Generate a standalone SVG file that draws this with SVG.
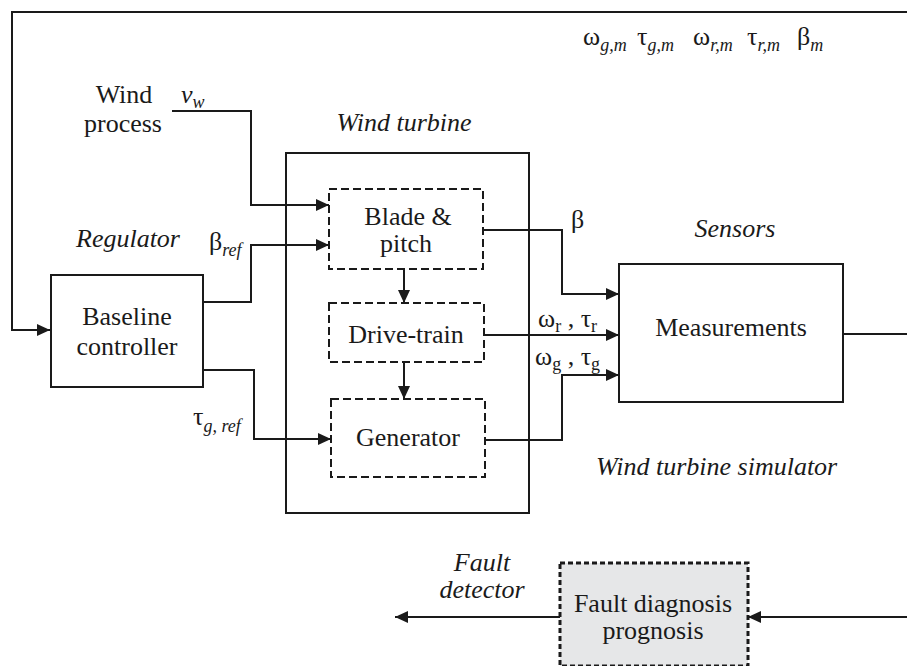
<svg xmlns="http://www.w3.org/2000/svg" width="907" height="666" viewBox="0 0 907 666" font-family="Liberation Serif, Tinos, Noto Serif, DejaVu Serif, Times New Roman, serif">
<style>
text{fill:#1a1a1a;font-size:26px}
.it{font-style:italic}
.mid{text-anchor:middle}
.sub{font-size:18px}
.box{fill:#fff;stroke:#1a1a1a;stroke-width:2}
.dash{fill:#fff;stroke:#1a1a1a;stroke-width:2;stroke-dasharray:8 4}
.fault{fill:#e6e7e8;stroke:#1a1a1a;stroke-width:3;stroke-dasharray:5 3}
.ln{fill:none;stroke:#1a1a1a;stroke-width:2}
</style>
<defs>
<marker id="arr" markerWidth="14" markerHeight="12" refX="13" refY="6" orient="auto" markerUnits="userSpaceOnUse">
<path d="M0,0 L13,6 L0,12 z" fill="#1a1a1a"/>
</marker>
</defs>
<rect width="907" height="666" fill="#fff"/>

<g id="turbine">
<rect class="box" x="286" y="153" width="243" height="360"/>
<text class="it mid" x="404" y="131">Wind turbine</text>
</g>

<g id="connectors">
<path class="ln" d="M907,12 H12 V330 H50" marker-end="url(#arr)"/>
<path class="ln" d="M172,111 H251 V205 H329" marker-end="url(#arr)"/>
<path class="ln" d="M203,302 H251 V245 H329" marker-end="url(#arr)"/>
<path class="ln" d="M203,370 H254 V439 H331" marker-end="url(#arr)"/>
<path class="ln" d="M404,269 V303" marker-end="url(#arr)"/>
<path class="ln" d="M404,362 V399" marker-end="url(#arr)"/>
<path class="ln" d="M483,230 H562 V294 H619" marker-end="url(#arr)"/>
<path class="ln" d="M484,335 H619" marker-end="url(#arr)"/>
<path class="ln" d="M485,440 H562 V375 H619" marker-end="url(#arr)"/>
<path class="ln" d="M843,334 H907"/>
<path class="ln" d="M907,617 H748" marker-end="url(#arr)"/>
<path class="ln" d="M560,617 H395" marker-end="url(#arr)"/>
</g>

<g id="wind-process">
<text class="mid" x="124" y="103">Wind</text>
<text class="mid" x="123" y="132">process</text>
</g>

<g id="baseline-controller">
<rect class="box" x="51" y="275" width="152" height="112"/>
<text class="mid" x="127" y="325">Baseline</text>
<text class="mid" x="127" y="355">controller</text>
</g>

<g id="blade-pitch">
<rect class="dash" x="329" y="189" width="154" height="80"/>
<text class="mid" x="408" y="225">Blade &amp;</text>
<text class="mid" x="406" y="252">pitch</text>
</g>

<g id="drive-train">
<rect class="dash" x="329" y="303" width="155" height="59"/>
<text class="mid" x="406" y="343">Drive-train</text>
</g>

<g id="generator">
<rect class="dash" x="331" y="399" width="154" height="78"/>
<text class="mid" x="408" y="446">Generator</text>
</g>

<g id="measurements">
<rect class="box" x="619" y="264" width="224" height="138"/>
<text class="mid" x="731" y="336">Measurements</text>
</g>

<g id="fault-diagnosis">
<rect class="fault" x="560" y="563" width="188" height="103"/>
<text class="mid" x="653" y="612">Fault diagnosis</text>
<text class="mid" x="653" y="639">prognosis</text>
</g>

<g id="labels">
<text x="583" y="45">ω<tspan class="sub it" dy="6">g,m</tspan></text>
<text x="637" y="45">τ<tspan class="sub it" dy="6">g,m</tspan></text>
<text x="693" y="45">ω<tspan class="sub it" dy="6">r,m</tspan></text>
<text x="747" y="45">τ<tspan class="sub it" dy="6">r,m</tspan></text>
<text x="797" y="45">β<tspan class="sub it" dy="6">m</tspan></text>
<text class="it" x="181" y="103">v<tspan class="sub" dy="5">w</tspan></text>
<text class="it" x="76" y="247">Regulator</text>
<text x="209" y="250">β<tspan class="sub it" dy="6">ref</tspan></text>
<text x="193" y="425">τ<tspan class="sub it" dy="7">g, ref</tspan></text>
<text x="571" y="228">β</text>
<text class="it mid" x="735" y="237">Sensors</text>
<text x="538" y="327">ω<tspan class="sub" dy="5">r</tspan><tspan dy="-5"> , τ</tspan><tspan class="sub" dy="5">r</tspan></text>
<text x="535" y="365">ω<tspan class="sub" dy="5">g</tspan><tspan dy="-5"> , τ</tspan><tspan class="sub" dy="5">g</tspan></text>
<text class="it" x="596" y="475">Wind turbine simulator</text>
<text class="it mid" x="482" y="571">Fault</text>
<text class="it mid" x="482" y="598">detector</text>
</g>
</svg>
